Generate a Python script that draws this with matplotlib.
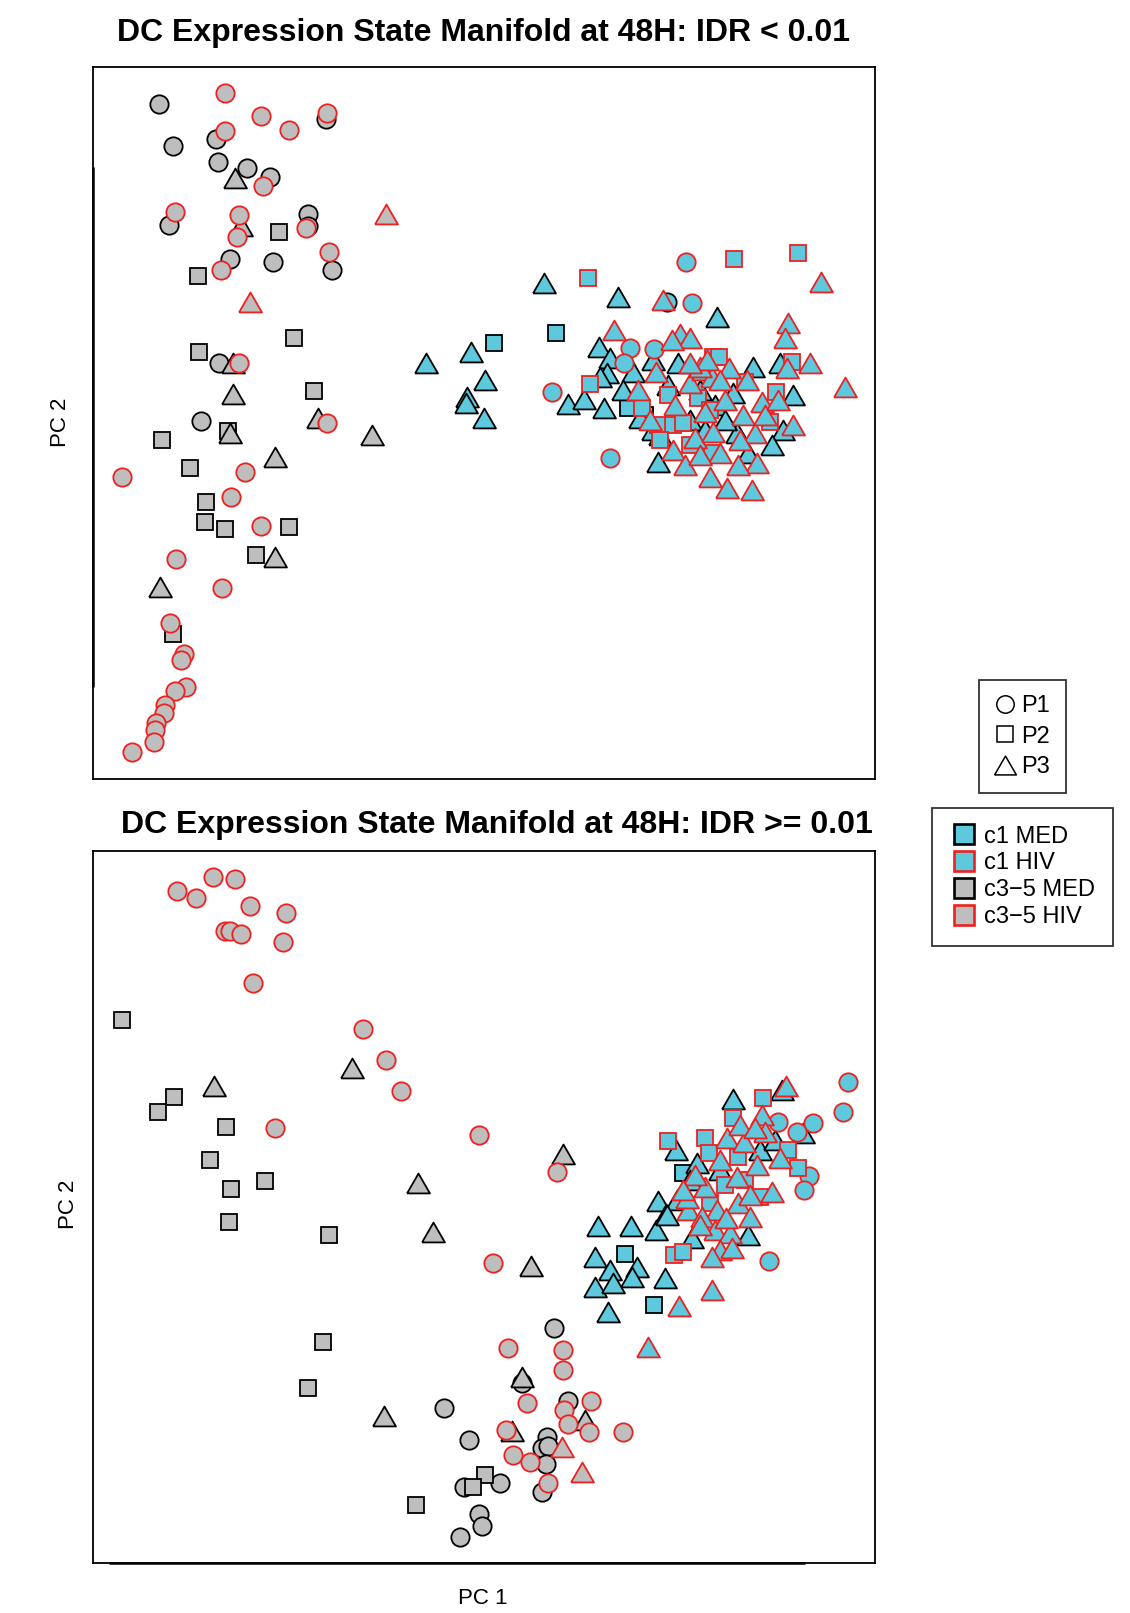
import matplotlib
matplotlib.use("Agg")
import matplotlib.pyplot as plt
from matplotlib.lines import Line2D

plt.rcParams['font.family'] = ['Liberation Sans', 'DejaVu Sans']

# Point positions read off the picture (PC1 to the right, PC2 measured downward),
# each as (pc1, pc2, patient)

# ---- top panel: IDR < 0.01 ----
top_c35_med = [
    (159, 104, 'P1'), (173, 146, 'P1'), (216, 139, 'P1'), (218, 162, 'P1'), (247, 168, 'P1'),
    (270, 177, 'P1'), (326, 119, 'P1'), (169, 225, 'P1'), (308, 214, 'P1'), (308, 226, 'P1'),
    (230, 259, 'P1'), (273, 262, 'P1'), (332, 270, 'P1'), (219, 363, 'P1'), (201, 421, 'P1'),
    (279, 232, 'P2'), (198, 276, 'P2'), (294, 338, 'P2'), (199, 352, 'P2'), (314, 391, 'P2'),
    (228, 431, 'P2'), (162, 440, 'P2'), (190, 468, 'P2'), (206, 502, 'P2'), (205, 522, 'P2'),
    (225, 529, 'P2'), (289, 527, 'P2'), (256, 555, 'P2'), (173, 634, 'P2'),
    (235, 178, 'P3'), (241, 226, 'P3'), (233, 363, 'P3'), (233, 394, 'P3'), (318, 418, 'P3'),
    (230, 433, 'P3'), (372, 435, 'P3'), (275, 457, 'P3'), (275, 557, 'P3'), (160, 587, 'P3'),
]
top_c35_hiv = [
    (225, 93, 'P1'), (261, 116, 'P1'), (289, 130, 'P1'), (327, 113, 'P1'), (225, 131, 'P1'),
    (263, 186, 'P1'), (175, 212, 'P1'), (239, 215, 'P1'), (237, 237, 'P1'), (306, 228, 'P1'),
    (329, 252, 'P1'), (221, 270, 'P1'), (239, 363, 'P1'), (327, 423, 'P1'), (122, 477, 'P1'),
    (245, 472, 'P1'), (231, 497, 'P1'), (261, 526, 'P1'), (176, 559, 'P1'), (222, 588, 'P1'),
    (170, 623, 'P1'), (184, 654, 'P1'), (181, 660, 'P1'), (186, 687, 'P1'), (175, 691, 'P1'),
    (165, 705, 'P1'), (164, 713, 'P1'), (156, 723, 'P1'), (155, 730, 'P1'), (154, 742, 'P1'),
    (132, 752, 'P1'),
    (386, 214, 'P3'), (250, 302, 'P3'),
]
top_c1_med = [
    (667, 302, 'P1'),
    (494, 343, 'P2'), (556, 333, 'P2'), (628, 408, 'P2'), (645, 415, 'P2'),
    (544, 283, 'P3'), (618, 297, 'P3'), (717, 317, 'P3'), (426, 363, 'P3'), (471, 352, 'P3'),
    (485, 380, 'P3'), (467, 397, 'P3'), (466, 403, 'P3'), (484, 418, 'P3'), (568, 404, 'P3'),
    (584, 399, 'P3'), (604, 408, 'P3'), (599, 347, 'P3'), (610, 358, 'P3'), (607, 373, 'P3'),
    (600, 377, 'P3'), (633, 372, 'P3'), (653, 360, 'P3'), (623, 390, 'P3'), (793, 395, 'P3'),
    (658, 462, 'P3'), (678, 363, 'P3'), (660, 435, 'P3'), (653, 430, 'P3'), (753, 367, 'P3'),
    (780, 363, 'P3'), (783, 430, 'P3'), (772, 445, 'P3'), (737, 433, 'P3'), (748, 453, 'P3'),
    (733, 393, 'P3'), (700, 390, 'P3'), (690, 420, 'P3'), (715, 405, 'P3'), (640, 418, 'P3'),
    (668, 385, 'P3'), (705, 430, 'P3'), (725, 420, 'P3'),
]
top_c1_hiv = [
    (686, 262, 'P1'), (692, 303, 'P1'), (630, 348, 'P1'), (654, 349, 'P1'), (624, 363, 'P1'),
    (552, 392, 'P1'), (610, 458, 'P1'),
    (588, 278, 'P2'), (734, 259, 'P2'), (798, 253, 'P2'), (590, 384, 'P2'), (642, 408, 'P2'),
    (658, 425, 'P2'), (673, 425, 'P2'), (683, 423, 'P2'), (698, 398, 'P2'), (668, 395, 'P2'),
    (712, 453, 'P2'), (713, 357, 'P2'), (719, 357, 'P2'), (792, 362, 'P2'), (776, 392, 'P2'),
    (770, 422, 'P2'), (745, 382, 'P2'), (710, 410, 'P2'), (660, 440, 'P2'), (690, 445, 'P2'),
    (821, 282, 'P3'), (663, 300, 'P3'), (614, 330, 'P3'), (788, 323, 'P3'), (785, 338, 'P3'),
    (680, 334, 'P3'), (690, 338, 'P3'), (672, 340, 'P3'), (810, 363, 'P3'), (845, 387, 'P3'),
    (710, 477, 'P3'), (727, 488, 'P3'), (752, 490, 'P3'), (656, 372, 'P3'), (690, 383, 'P3'),
    (675, 405, 'P3'), (705, 412, 'P3'), (695, 438, 'P3'), (673, 450, 'P3'), (703, 370, 'P3'),
    (712, 377, 'P3'), (638, 390, 'P3'), (729, 368, 'P3'), (720, 380, 'P3'), (747, 380, 'P3'),
    (762, 402, 'P3'), (725, 400, 'P3'), (743, 415, 'P3'), (793, 425, 'P3'), (713, 432, 'P3'),
    (755, 433, 'P3'), (720, 453, 'P3'), (757, 463, 'P3'), (738, 465, 'P3'), (700, 367, 'P3'),
    (707, 360, 'P3'), (787, 368, 'P3'), (690, 363, 'P3'), (650, 420, 'P3'), (685, 465, 'P3'),
    (700, 455, 'P3'), (740, 440, 'P3'), (765, 415, 'P3'), (778, 400, 'P3'),
]

# ---- bottom panel: IDR >= 0.01 ----
bot_c35_med = [
    (554, 1328, 'P1'), (522, 1383, 'P1'), (444, 1408, 'P1'), (568, 1401, 'P1'), (469, 1440, 'P1'),
    (547, 1437, 'P1'), (542, 1448, 'P1'), (548, 1446, 'P1'), (546, 1464, 'P1'), (500, 1483, 'P1'),
    (464, 1487, 'P1'), (542, 1492, 'P1'), (479, 1514, 'P1'), (482, 1526, 'P1'), (460, 1537, 'P1'),
    (122, 1020, 'P2'), (174, 1097, 'P2'), (158, 1112, 'P2'), (226, 1127, 'P2'), (210, 1160, 'P2'),
    (265, 1181, 'P2'), (231, 1189, 'P2'), (229, 1222, 'P2'), (329, 1235, 'P2'), (323, 1342, 'P2'),
    (308, 1388, 'P2'), (416, 1505, 'P2'), (485, 1475, 'P2'), (473, 1487, 'P2'),
    (214, 1086, 'P3'), (352, 1068, 'P3'), (418, 1183, 'P3'), (433, 1232, 'P3'), (563, 1154, 'P3'),
    (531, 1266, 'P3'), (522, 1377, 'P3'), (384, 1416, 'P3'), (585, 1420, 'P3'), (512, 1431, 'P3'),
]
bot_c35_hiv = [
    (213, 877, 'P1'), (235, 879, 'P1'), (177, 891, 'P1'), (196, 898, 'P1'), (250, 906, 'P1'),
    (286, 913, 'P1'), (225, 931, 'P1'), (230, 931, 'P1'), (241, 934, 'P1'), (283, 942, 'P1'),
    (253, 983, 'P1'), (363, 1029, 'P1'), (386, 1060, 'P1'), (401, 1091, 'P1'), (275, 1128, 'P1'),
    (479, 1135, 'P1'), (557, 1172, 'P1'), (493, 1263, 'P1'), (508, 1348, 'P1'), (563, 1350, 'P1'),
    (563, 1370, 'P1'), (527, 1403, 'P1'), (564, 1410, 'P1'), (568, 1424, 'P1'), (591, 1401, 'P1'),
    (623, 1432, 'P1'), (589, 1432, 'P1'), (506, 1430, 'P1'), (513, 1455, 'P1'), (530, 1462, 'P1'),
    (548, 1483, 'P1'),
    (562, 1447, 'P3'), (582, 1472, 'P3'),
]
bot_c1_med = [
    (625, 1254, 'P2'), (654, 1305, 'P2'), (683, 1173, 'P2'),
    (598, 1226, 'P3'), (631, 1226, 'P3'), (656, 1230, 'P3'), (658, 1201, 'P3'), (677, 1200, 'P3'),
    (666, 1214, 'P3'), (595, 1257, 'P3'), (610, 1270, 'P3'), (637, 1267, 'P3'), (632, 1277, 'P3'),
    (665, 1278, 'P3'), (595, 1287, 'P3'), (613, 1283, 'P3'), (608, 1312, 'P3'), (733, 1099, 'P3'),
    (782, 1090, 'P3'), (803, 1133, 'P3'), (676, 1150, 'P3'), (697, 1163, 'P3'), (667, 1215, 'P3'),
    (692, 1238, 'P3'), (748, 1235, 'P3'), (690, 1180, 'P3'), (720, 1170, 'P3'), (760, 1150, 'P3'),
    (775, 1140, 'P3'),
]
bot_c1_hiv = [
    (848, 1082, 'P1'), (843, 1112, 'P1'), (778, 1122, 'P1'), (813, 1123, 'P1'), (797, 1132, 'P1'),
    (809, 1176, 'P1'), (804, 1190, 'P1'), (769, 1261, 'P1'),
    (668, 1141, 'P2'), (763, 1098, 'P2'), (733, 1118, 'P2'), (705, 1138, 'P2'), (709, 1153, 'P2'),
    (788, 1150, 'P2'), (738, 1157, 'P2'), (798, 1168, 'P2'), (760, 1197, 'P2'), (710, 1203, 'P2'),
    (674, 1255, 'P2'), (683, 1252, 'P2'), (725, 1185, 'P2'), (745, 1180, 'P2'),
    (679, 1306, 'P3'), (786, 1086, 'P3'), (762, 1115, 'P3'), (765, 1132, 'P3'), (727, 1138, 'P3'),
    (744, 1142, 'P3'), (757, 1165, 'P3'), (737, 1177, 'P3'), (780, 1158, 'P3'), (705, 1187, 'P3'),
    (688, 1210, 'P3'), (717, 1210, 'P3'), (702, 1217, 'P3'), (738, 1203, 'P3'), (750, 1217, 'P3'),
    (772, 1192, 'P3'), (715, 1230, 'P3'), (730, 1233, 'P3'), (720, 1250, 'P3'), (732, 1248, 'P3'),
    (712, 1257, 'P3'), (712, 1290, 'P3'), (648, 1347, 'P3'), (687, 1198, 'P3'), (695, 1175, 'P3'),
    (720, 1160, 'P3'), (740, 1125, 'P3'), (700, 1225, 'P3'), (726, 1218, 'P3'), (750, 1195, 'P3'),
    (683, 1190, 'P3'), (755, 1128, 'P3'),
]

titles = ["DC Expression State Manifold at 48H: IDR < 0.01",
          "DC Expression State Manifold at 48H: IDR >= 0.01"]
group_labels = ["c1 MED", "c1 HIV", "c3\u22125 MED", "c3\u22125 HIV"]
patients = ["P1", "P2", "P3"]

CYAN = "#5ec8dc"
GRAY = "#bebebe"
RED = "#ee2020"

tri = [(-1, -0.866), (1, -0.866), (0, 0.866), (-1, -0.866)]
shape = {"P1": ("o", 13.2), "P2": ("s", 11.8), "P3": (tri, 16.5)}

fig = plt.figure(figsize=(11.3, 16.13), dpi=100)
ax_top = fig.add_axes([0.0823, 0.5170, 0.692, 0.4414])
ax_bot = fig.add_axes([0.0823, 0.0310, 0.692, 0.4414])


def draw(ax, pts, face, edge):
    for p in patients:
        xs = [q[0] for q in pts if q[2] == p]
        ys = [q[1] for q in pts if q[2] == p]
        m, ms = shape[p]
        ax.plot(xs, ys, linestyle="none", marker=m, markersize=ms,
                markerfacecolor=face, markeredgecolor=edge, markeredgewidth=1.3)


panels = [
    (ax_top, [top_c35_med, top_c35_hiv, top_c1_med, top_c1_hiv], (93, 875), (779, 67)),
    (ax_bot, [bot_c35_med, bot_c35_hiv, bot_c1_med, bot_c1_hiv], (93, 875), (1563, 851)),
]
styles = [(GRAY, "black"), (GRAY, RED), (CYAN, "black"), (CYAN, RED)]

for ax, groups, xl, yl in panels:
    for pts, (fc, ec) in zip(groups, styles):
        draw(ax, pts, fc, ec)
    ax.set_xlim(*xl)
    ax.set_ylim(*yl)
    ax.set_xticks([])
    ax.set_yticks([])
    for s in ax.spines.values():
        s.set_linewidth(1.3)

# R-style axis lines (tick-less axes drawn over the box)
ax_top.plot([0, 0], [0.13, 0.86], transform=ax_top.transAxes, color="black",
            lw=1.8, clip_on=False, solid_capstyle="butt")
ax_bot.plot([0.02, 0.91], [0, 0], transform=ax_bot.transAxes, color="black",
            lw=1.8, clip_on=False, solid_capstyle="butt")

fig.text(0.428, 1 - 33 / 1613, titles[0], ha="center", va="center",
         fontsize=23, fontweight="bold")
fig.text(0.440, 1 - 825 / 1613, titles[1], ha="center", va="center",
         fontsize=23, fontweight="bold")
fig.text(60 / 1130, 1 - 422 / 1613, "PC 2", rotation=90, ha="center", va="center", fontsize=16)
fig.text(69 / 1130, 1 - 1204 / 1613, "PC 2", rotation=90, ha="center", va="center", fontsize=16)
fig.text(483 / 1130, 1 - 1598 / 1613, "PC 1", ha="center", va="center", fontsize=16)

# legend for patients (shape)
h1 = [Line2D([], [], linestyle="none", marker=shape[p][0], markersize=shape[p][1] * 0.95,
             markerfacecolor="none", markeredgecolor="black", markeredgewidth=1.1)
      for p in patients]
leg1 = fig.legend(h1, patients, loc="upper left", bbox_to_anchor=(979 / 1130, 1 - 680 / 1613),
                  fontsize=17, frameon=True, fancybox=False, edgecolor="black",
                  handlelength=0.9, handletextpad=0.25, labelspacing=0.35,
                  borderpad=0.65, borderaxespad=0)
leg1.get_frame().set_linewidth(1.3)

# legend for groups (colour)
h2 = [Line2D([], [], linestyle="none", marker="s", markersize=15,
             markerfacecolor=fc, markeredgecolor=ec, markeredgewidth=1.9)
      for fc, ec in [(CYAN, "black"), (CYAN, RED), (GRAY, "black"), (GRAY, RED)]]
leg2 = fig.legend(h2, group_labels, loc="upper left", bbox_to_anchor=(932 / 1130, 1 - 808 / 1613),
                  fontsize=17, frameon=True, fancybox=False, edgecolor="black",
                  handlelength=1.2, handletextpad=0.25, labelspacing=0.2,
                  borderpad=0.75, borderaxespad=0)
leg2.get_frame().set_linewidth(1.3)

fig.savefig("out.png", dpi=100)
